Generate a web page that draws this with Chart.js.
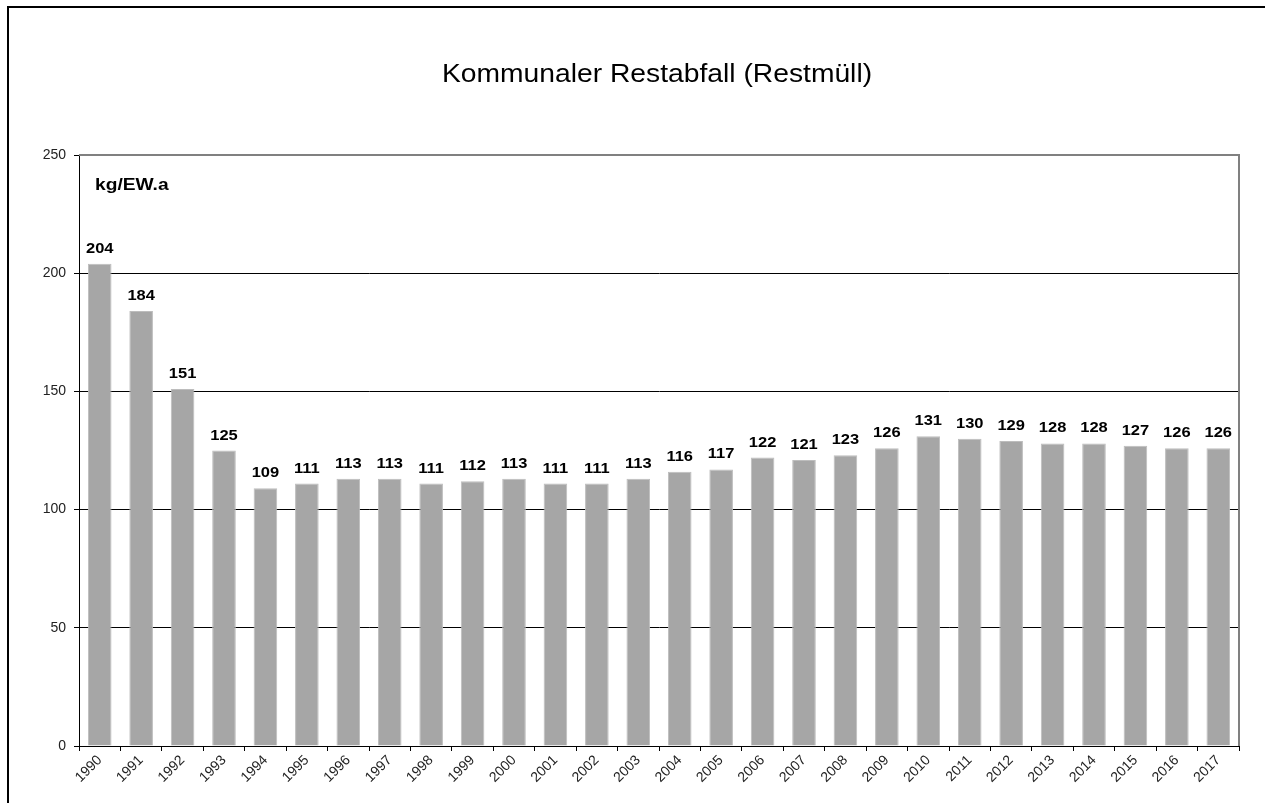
<!DOCTYPE html>
<html>
<head>
<meta charset="utf-8">
<script src="https://cdn.jsdelivr.net/npm/chart.js@4.4.1/dist/chart.umd.min.js"></script>
<style>
    html, body { margin: 0; padding: 0; background: #fff; overflow: hidden; }
    .frame { position: absolute; left: 7px; top: 6px; width: 1300px; height: 850px; border-left: 2px solid #000; border-top: 2px solid #000; }
    .chart-container { position: absolute; left: 0; top: 0; width: 1265px; height: 803px; }
</style>
</head>
<body>
<div class="frame"></div>
<div class="chart-container"><canvas id="wasteChart"></canvas></div>
<script>
// Kommunaler Restabfall (Restmüll), kg pro Einwohner und Jahr
const years = ['1990', '1991', '1992', '1993', '1994', '1995', '1996', '1997', '1998', '1999',
    '2000', '2001', '2002', '2003', '2004', '2005', '2006', '2007', '2008', '2009',
    '2010', '2011', '2012', '2013', '2014', '2015', '2016', '2017'];
const restmuell = [204, 184, 151, 125, 109, 111, 113, 113, 111, 112,
    113, 111, 111, 113, 116, 117, 122, 121, 123, 126,
    131, 130, 129, 128, 128, 127, 126, 126];
const yTicks = [0, 50, 100, 150, 200, 250];

const chartTitle = 'Kommunaler Restabfall (Restmüll)';
const unitLabel = 'kg/EW.a';
const FONT = 'Arial, "Liberation Sans", sans-serif';

// text in the original is a bit wider than normal Arial
function stretchedText(ctx, text, x, y, stretch) {
    ctx.save();
    ctx.translate(x, y);
    ctx.scale(stretch, 1);
    ctx.fillText(text, 0, 0);
    ctx.restore();
}

const labelsPlugin = {
    id: 'labelsPlugin',
    afterDatasetsDraw(chart) {
        const ctx = chart.ctx;
        const area = chart.chartArea;

        // grey frame on top/right of the plot
        ctx.save();
        ctx.strokeStyle = '#808080';
        ctx.lineWidth = 2;
        ctx.beginPath();
        ctx.moveTo(area.left, area.top);
        ctx.lineTo(area.right, area.top);
        ctx.lineTo(area.right, area.bottom);
        ctx.stroke();
        ctx.restore();

        // value labels above bars
        const meta = chart.getDatasetMeta(0);
        ctx.save();
        ctx.fillStyle = '#000';
        ctx.font = 'bold 15px ' + FONT;
        ctx.textAlign = 'center';
        ctx.textBaseline = 'alphabetic';
        meta.data.forEach((bar, i) => {
            stretchedText(ctx, String(restmuell[i]), bar.x, bar.y - 11, 1.1);
        });

        // unit label
        ctx.textAlign = 'left';
        ctx.font = 'bold 16px ' + FONT;
        stretchedText(ctx, unitLabel, area.left + 16, area.top + 35, 1.2);

        // title
        ctx.textAlign = 'center';
        ctx.font = '25px ' + FONT;
        stretchedText(ctx, chartTitle, 657, 82, 1.13);
        ctx.restore();
    }
};

const ctx = document.getElementById('wasteChart').getContext('2d');

new Chart(ctx, {
    type: 'bar',
    data: {
        labels: years,
        datasets: [{
            label: unitLabel,
            data: restmuell,
            backgroundColor: '#a6a6a6',
            borderColor: '#bdbdbd',
            borderWidth: 1,
            barPercentage: 0.57,
            categoryPercentage: 1.0
        }]
    },
    options: {
        responsive: true,
        maintainAspectRatio: false,
        animation: false,
        layout: {
            padding: { top: 155, right: 26, left: 0, bottom: 0 }
        },
        plugins: {
            legend: { display: false },
            tooltip: { enabled: false }
        },
        scales: {
            x: {
                afterFit(scale) { scale.height = 57; },
                grid: {
                    display: true,
                    drawOnChartArea: false,
                    drawTicks: true,
                    tickLength: 5,
                    color: '#000',
                    offset: true
                },
                border: { color: '#000', width: 1 },
                ticks: {
                    minRotation: 45,
                    maxRotation: 45,
                    autoSkip: false,
                    padding: 1,
                    color: '#222',
                    font: { family: FONT, size: 14 }
                }
            },
            y: {
                min: 0,
                max: 250,
                afterFit(scale) { scale.width = 79; },
                afterBuildTicks(scale) {
                    scale.ticks = yTicks.map(v => ({ value: v }));
                },
                grid: {
                    color: c => (c.tick && c.tick.value === 250) ? '#808080' : '#000',
                    tickColor: '#000',
                    tickLength: 5,
                    lineWidth: 1
                },
                border: { color: '#000', width: 1 },
                ticks: {
                    padding: 8,
                    color: '#222',
                    font: { family: FONT, size: 14 }
                }
            }
        }
    },
    plugins: [labelsPlugin]
});
</script>
</body>
</html>
